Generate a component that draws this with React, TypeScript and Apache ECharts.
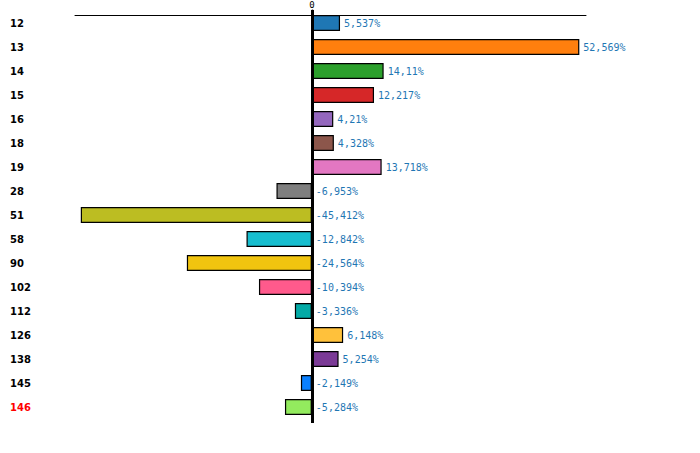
import React, { useEffect, useRef } from "react";
import * as echarts from "echarts";

const categories = ["12", "13", "14", "15", "16", "18", "19", "28", "51", "58", "90", "102", "112", "126", "138", "145", "146"];
const changeValues = [5.537, 52.569, 14.11, 12.217, 4.21, 4.328, 13.718, -6.953, -45.412, -12.842, -24.564, -10.394, -3.336, 6.148, 5.254, -2.149, -5.284];
const highlightCategory = "146";

const palette = [
    "#1f77b4", "#ff7f0e", "#2ca02c", "#d62728", "#9467bd", "#8c564b", "#e377c2", "#7f7f7f",
    "#bcbd22", "#17becf", "#f1c40f", "#ff5a8c", "#03aaa6", "#ffc13b", "#7b3a96", "#0a80ff", "#93eb5e",
];

const formatPercent = (v: number) => `${String(v).replace(".", ",")}%`;

export default function App() {
    const chartRef = useRef<HTMLDivElement>(null);

    useEffect(() => {
        document.body.style.margin = "0";
        if (chartRef.current === null) return;
        const chart = echarts.init(chartRef.current, undefined, { renderer: "svg" });

        const axisMin = -46.55;
        const axisMax = 53.88;

        const option: echarts.EChartsOption = {
            animation: false,
            grid: { left: 75, right: 114, top: 11, bottom: 34, containLabel: false, outerBoundsMode: "none" } as any,
            xAxis: [
                {
                    type: "value",
                    position: "top",
                    offset: -4,
                    min: axisMin,
                    max: axisMax,
                    axisLine: { show: true, lineStyle: { color: "#000", width: 1 } },
                    axisTick: { show: true, customValues: [0], length: 5, lineStyle: { color: "#000", width: 3 } } as any,
                    axisLabel: { customValues: [0], fontSize: 9, color: "#000", margin: 6, fontFamily: "DejaVu Sans Mono" } as any,
                    splitLine: { show: false },
                },
                {
                    type: "value",
                    position: "bottom",
                    min: axisMin,
                    max: axisMax,
                    axisLine: { show: false },
                    axisTick: { show: true, customValues: [0], length: 4, lineStyle: { color: "#000", width: 3 } } as any,
                    axisLabel: { show: false },
                    splitLine: { show: false },
                },
            ],
            yAxis: {
                type: "category",
                data: categories,
                inverse: true,
                z: 5,
                axisLine: { onZero: true, lineStyle: { color: "#000", width: 3 } },
                axisTick: { show: false },
                axisLabel: {
                    margin: 65,
                    align: "left",
                    fontSize: 10,
                    fontWeight: "bold",
                    fontFamily: "DejaVu Sans",
                    color: ((val: string) => (val === highlightCategory ? "#ff0000" : "#000")) as any,
                },
            },
            series: [
                {
                    type: "bar",
                    xAxisIndex: 0,
                    barWidth: 16,
                    data: changeValues.map((v, i) => ({ value: v, itemStyle: { color: palette[i] } })),
                    itemStyle: { borderColor: "#000", borderWidth: 1.2 },
                    label: {
                        show: true,
                        position: "right",
                        distance: 4,
                        color: "#1f77b4",
                        fontSize: 10,
                        fontFamily: "DejaVu Sans Mono",
                        formatter: (p: any) => formatPercent(p.value),
                    },
                },
            ],
        };

        chart.setOption(option);
        return () => {
            chart.dispose();
        };
    }, []);

    return <div ref={chartRef} style={{ width: "700px", height: "453px" }} />;
}
